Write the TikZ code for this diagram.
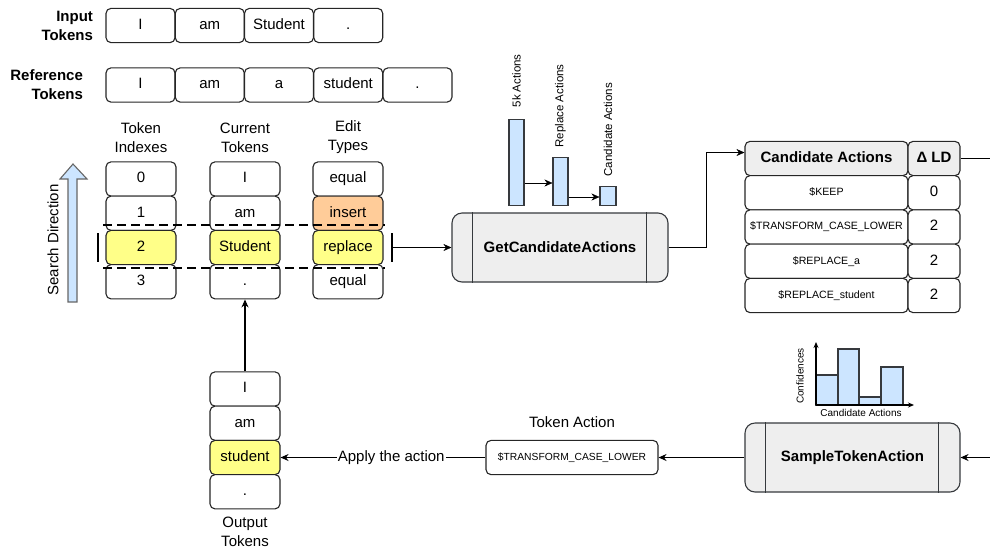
\documentclass[tikz,border=0pt]{standalone}
\usepackage{fontspec}
\setmainfont{Liberation Sans}
\usetikzlibrary{arrows.meta,positioning}
\definecolor{hlyellow}{HTML}{FFFF88}
\definecolor{hlorange}{HTML}{FFCC99}
\definecolor{barblue}{HTML}{CCE5FF}
\definecolor{procfill}{HTML}{EEEEEE}
\definecolor{procline}{HTML}{36393D}
\newcommand{\fsz}[1]{\fontsize{#1}{#1}\selectfont}

\begin{document}
\begin{tikzpicture}[
            x=1pt, y=-1pt,
            node distance=34.25pt,
            >={Stealth[length=8pt,width=7pt]},
            every node/.style={font=\fontsize{15}{19}\selectfont},
            tok/.style={draw=black!85, fill=white, line width=1.1pt, rounded corners=5pt,
                minimum width=69pt, minimum height=34.25pt, inner sep=0pt,
                text height=11pt, text depth=3.5pt},
            cell/.style={tok, minimum width=70pt},
            hl/.style={fill=hlyellow},
            ins/.style={fill=hlorange},
            lbl/.style={align=right, font=\fontsize{15}{19}\selectfont\bfseries},
            colhead/.style={align=center},
            cacell/.style={tok, minimum width=163pt, font=\fsz{10.6}, text height=8pt, text depth=2.5pt},
            ldcell/.style={tok, minimum width=52pt},
            cahead/.style={fill=procfill, font=\fsz{15}\bfseries, text height=11pt, text depth=3.5pt},
            proc/.style={draw=procline, fill=procfill, line width=1.1pt, rounded corners=10pt,
                minimum width=216pt, minimum height=69pt, font=\fsz{15}\bfseries},
            bar/.style={draw=procline, fill=barblue, line width=1.1pt, inner sep=0pt,
                minimum width=15pt, anchor=south},
            barlab/.style={rotate=90, anchor=west, font=\fsz{11.5}},
            small/.style={font=\fsz{10}},
            ]
            \useasboundingbox (0,0) rectangle (990,550);

            % input and reference tokens
            \node (in1) [tok] at (140.5,25.5) {I};
            \node (in2) [tok, node distance=69.25pt, right of=in1] {am};
            \node (in3) [tok, node distance=69.25pt, right of=in2] {Student};
            \node (in4) [tok, node distance=69.25pt, right of=in3] {.};
            \node (inlab) [lbl, left=9pt of in1] {Input\\Tokens};

            \node (ref1) [tok] at (140.5,85) {I};
            \node (ref2) [tok, node distance=69.25pt, right of=ref1] {am};
            \node (ref3) [tok, node distance=69.25pt, right of=ref2] {a};
            \node (ref4) [tok, node distance=69.25pt, right of=ref3] {student};
            \node (ref5) [tok, node distance=69.25pt, right of=ref4] {.};
            \node (reflab) [lbl, left=19pt of ref1] {Reference\\Tokens};

            % search columns
            \node (idx0) [cell] at (141,179) {0};
            \node (idx1) [cell, below of=idx0] {1};
            \node (idx2) [cell, hl, below of=idx1] {2};
            \node (idx3) [cell, below of=idx2] {3};
            \node (cur0) [cell] at (245,179) {I};
            \node (cur1) [cell, below of=cur0] {am};
            \node (cur2) [cell, hl, below of=cur1] {Student};
            \node (cur3) [cell, below of=cur2] {.};
            \node (ed0) [cell] at (348,179) {equal};
            \node (ed1) [cell, ins, below of=ed0] {insert};
            \node (ed2) [cell, hl, below of=ed1] {replace};
            \node (ed3) [cell, below of=ed2] {equal};
            \node (idxlab) [colhead, node distance=41.5pt, above of=idx0] {Token\\Indexes};
            \node (curlab) [colhead, node distance=41.5pt, above of=cur0] {Current\\Tokens};
            \node (edlab) [colhead, node distance=41.5pt, above of=ed0] {Edit\\Types};

            % current position
            \draw[line width=2.6pt, dash pattern=on 9pt off 5pt] (103,225) -- (385,225) (103,268) -- (385,268);
            \draw[line width=2.6pt] (98,233) -- (98,262) (392,233) -- (392,262);
            \coordinate (sel) at (392,247.5);

            % search direction
            \draw[draw=black!60, fill=barblue, line width=1.1pt]
                (68,302) -- (68,179) -- (60,179) -- (73,164) -- (87,179) -- (77,179) -- (77,302) -- cycle;
            \node (sdir) [rotate=90] at (53,240) {Search Direction};

            % candidate actions
            \node (get) [proc] at (560,247.5) {GetCandidateActions};
            \draw[procline, line width=1.1pt] ([xshift=21pt]get.north west) -- ([xshift=21pt]get.south west)
                ([xshift=-22pt]get.north east) -- ([xshift=-22pt]get.south east);
            \node (B1) [bar, minimum height=86pt] at (516.5,206) {};
            \node (B2) [bar, minimum height=48pt] at (560.5,206) {};
            \node (B3) [bar, minimum height=19pt, minimum width=16pt] at (608,206) {};
            \node (B1lab) [barlab] at ([yshift=8pt]B1.north) {5k Actions};
            \node (B2lab) [barlab] at ([yshift=6pt]B2.north) {Replace Actions};
            \node (B3lab) [barlab] at ([yshift=6pt]B3.north) {Candidate Actions};
            \draw[->] (B1.east |- 0,183) -- (B2.west |- 0,183);
            \draw[->] (B2.east |- 0,197) -- (B3.west |- 0,197);

            \node (ca0) [cacell, cahead] at (826.5,158.5) {Candidate Actions};
            \node (ld0) [ldcell, cahead, node distance=107.5pt, right of=ca0] {Δ LD};
            \node (ca1) [cacell, below of=ca0] {\$KEEP};
            \node (ca2) [cacell, below of=ca1] {\$TRANSFORM\_CASE\_LOWER};
            \node (ca3) [cacell, below of=ca2] {\$REPLACE\_a};
            \node (ca4) [cacell, below of=ca3] {\$REPLACE\_student};
            \node (ld1) [ldcell, below of=ld0] {0};
            \node (ld2) [ldcell, below of=ld1] {2};
            \node (ld3) [ldcell, below of=ld2] {2};
            \node (ld4) [ldcell, below of=ld3] {2};
            \coordinate (edgeT) at (990,158.5);

            \draw[->] (sel) -- (get);
            \draw[->] (get.east) -- ++(38,0) |- ([yshift=6pt]ca0.west);
            \draw (ld0) -- (edgeT);

            % sampling
            \node (sample) [proc, minimum width=215pt] at (852.5,457.5) {SampleTokenAction};
            \draw[procline, line width=1.1pt] ([xshift=21pt]sample.north west) -- ([xshift=21pt]sample.south west)
                ([xshift=-22pt]sample.north east) -- ([xshift=-22pt]sample.south east);
            \draw[draw=procline, fill=barblue, line width=1.1pt]
                (816,405) rectangle (838,375) (838,405) rectangle (859,349)
                (859,405) rectangle (881,397) (881,405) rectangle (903,367);
            \draw[line width=1.1pt, ->, >={Stealth[length=6pt,width=5pt]}] (816,405) -- (816,342);
            \draw[line width=1.1pt, ->, >={Stealth[length=6pt,width=5pt]}] (816,405) -- (914,405);
            \node (conf) [small, rotate=90] at (800,376) {Confidences};
            \node (cax) [small] at (861,413) {Candidate Actions};
            \coordinate (edgeB) at (990,457.5);

            \node (act) [tok, minimum width=172pt, font=\fsz{10.3}, text height=8pt, text depth=2.5pt]
                at (572,457.5) {\$TRANSFORM\_CASE\_LOWER};
            \node (actlab) [node distance=35pt, above of=act] {Token Action};

            % output tokens
            \node (out1) [cell] at (245,389) {I};
            \node (out2) [cell, below of=out1] {am};
            \node (out3) [cell, hl, below of=out2] {student};
            \node (out4) [cell, below of=out3] {.};
            \node (outlab) [colhead, node distance=40pt, below of=out4] {Output\\Tokens};

            \draw[->, line width=1.1pt] (edgeB) -- (sample);
            \draw[->, line width=1.1pt] (sample) -- (act);
            \draw[->, line width=1.1pt] (act) -- node[pos=0.46, fill=white, inner sep=1pt] {Apply the action} (out3);
            \draw[->, line width=1.1pt] (out1) -- (cur3);
        \end{tikzpicture}
\end{document}
